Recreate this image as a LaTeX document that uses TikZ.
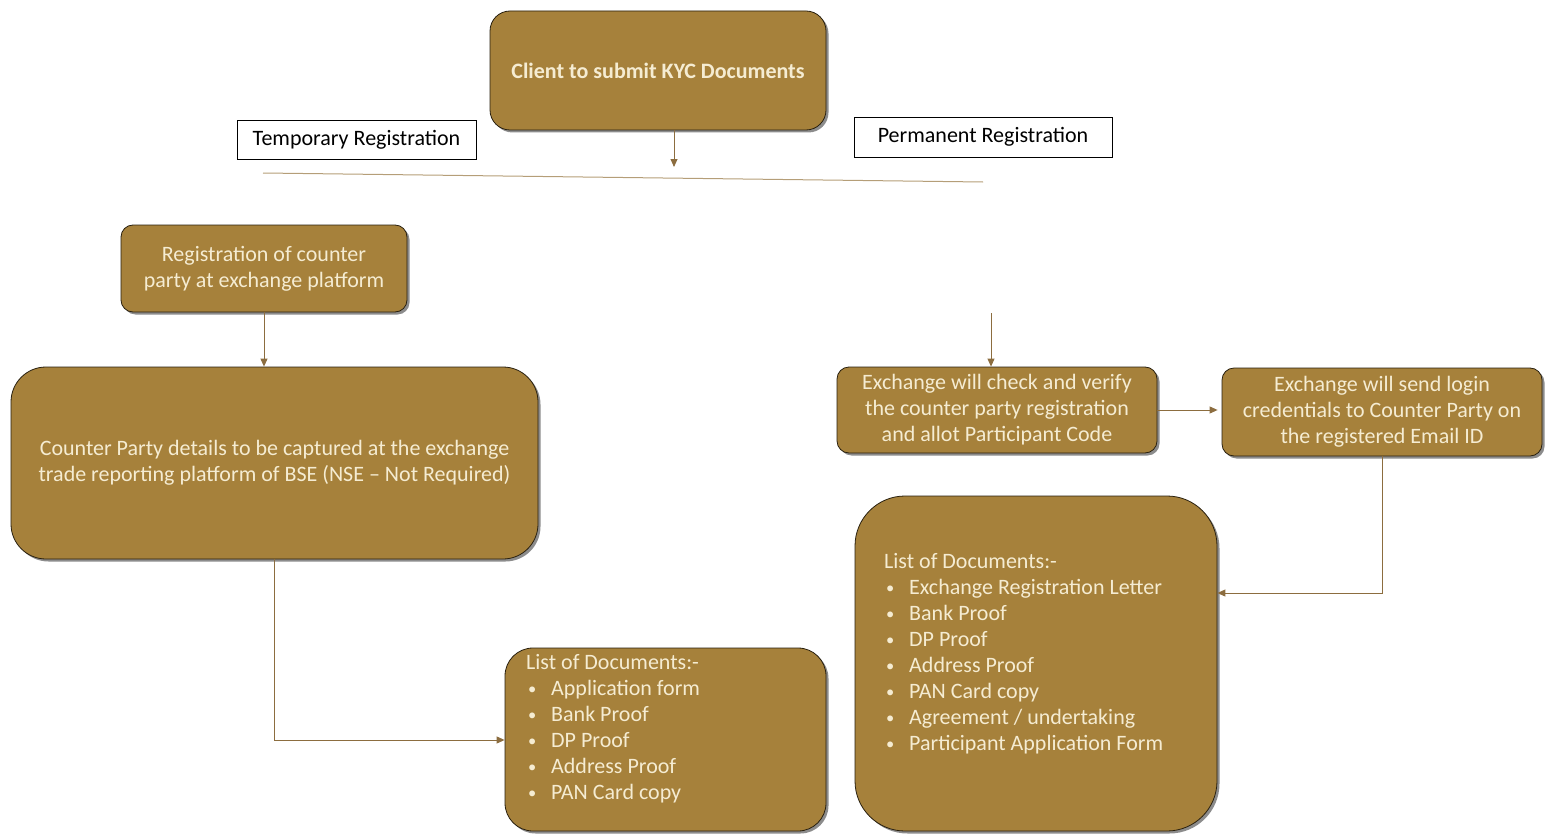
\documentclass[tikz,border=0pt]{standalone}
\usepackage{fontspec}
\setmainfont{Carlito}
\usetikzlibrary{shadows,arrows.meta}
\definecolor{boxfill}{HTML}{A6813B}
\definecolor{boxtext}{HTML}{F5ECD2}
\definecolor{conn}{HTML}{8C6D3F}
\definecolor{divline}{HTML}{B59E78}
\tikzset{
  box/.style={draw=black!75!boxfill, line width=0.8pt, fill=boxfill, text=boxtext,
    align=center, inner sep=0pt,
    drop shadow={shadow xshift=2.5pt, shadow yshift=-2.5pt, fill=black, opacity=0.45},
    font=\fontsize{22}{26}\selectfont},
  label box/.style={draw=black, line width=0.9pt, fill=white, inner sep=0pt,
    font=\fontsize{22}{24}\selectfont},
  list text/.style={text=boxtext, align=left, inner sep=0pt, anchor=north west,
    font=\fontsize{22}{26}\selectfont},
  arr/.style={draw=conn, line width=0.9pt, -{Triangle[length=8pt,width=7pt]}},
  plain/.style={draw=conn, line width=0.9pt},
}
\newcommand{\bul}{\makebox[25pt][l]{\hspace{2pt}\raisebox{1pt}{\scalebox{0.75}{•}}}}
\begin{document}
\begin{tikzpicture}[x=1pt,y=-1pt]
\useasboundingbox (0,0) rectangle (1549,840);
% boxes
\node[box, rounded corners=20pt, minimum width=336pt, minimum height=119pt] (kyc) at (658,70.5)
  {\textbf{Client to submit KYC Documents}};
\node[label box, minimum width=239pt, minimum height=39pt] (temp) at (356.5,139.5) {Temporary Registration};
\node[label box, minimum width=258pt, minimum height=40pt] (perm) at (983,137) {Permanent Registration};
\node[box, rounded corners=12pt, minimum width=286pt, minimum height=87pt] (reg) at (264,268.5)
  {Registration of counter\\party at exchange platform};
\node[box, rounded corners=35pt, minimum width=527pt, minimum height=192pt] (cp) at (274.5,463)
  {Counter Party details to be captured at the exchange\\trade reporting platform of BSE (NSE -- Not Required)};
\node[box, rounded corners=28pt, minimum width=321pt, minimum height=183pt] (tl) at (665.5,739.5) {};
\node[box, rounded corners=12pt, minimum width=320pt, minimum height=86pt] (ev) at (997,410)
  {Exchange will check and verify\\the counter party registration\\and allot Participant Code};
\node[box, rounded corners=12pt, minimum width=320pt, minimum height=88pt] (es) at (1382,412)
  {Exchange will send login\\credentials to Counter Party on\\the registered Email ID};
\node[box, rounded corners=50pt, minimum width=362pt, minimum height=335pt] (pl) at (1036,663.5) {};
% list texts
\node[list text] (tlt) at (526,654) {List of Documents:-\\
  \bul Application form\\ \bul Bank Proof\\ \bul DP Proof\\ \bul Address Proof\\ \bul PAN Card copy};
\node[list text] (plt) at (884,553) {List of Documents:-\\
  \bul Exchange Registration Letter\\ \bul Bank Proof\\ \bul DP Proof\\ \bul Address Proof\\
  \bul PAN Card copy\\ \bul Agreement / undertaking\\ \bul Participant Application Form};
% coordinates
\coordinate (dl) at (263,173);
\coordinate (dr) at (983,182);
\coordinate (kycend) at (674,167);
\coordinate (evstart) at (991,313);
\coordinate (cpcorner) at (274,740);
\coordinate (escorner) at (1382,593);
% connectors
\draw[divline, line width=1pt] (dl) -- (dr);
\draw[arr] (kyc.south -| kycend) -- (kycend);
\draw[arr] (reg.south) -- (reg.south |- cp.north);
\draw[arr] (evstart) -- (evstart |- ev.north);
\draw[arr] (ev.east) -- ([xshift=-4pt]es.west |- ev.east);
\draw[arr] (cp.south -| cpcorner) -- (cpcorner) -- (tl.west |- cpcorner);
\draw[arr] (es.south -| escorner) -- (escorner) -- (pl.east |- escorner);
\end{tikzpicture}
\end{document}
